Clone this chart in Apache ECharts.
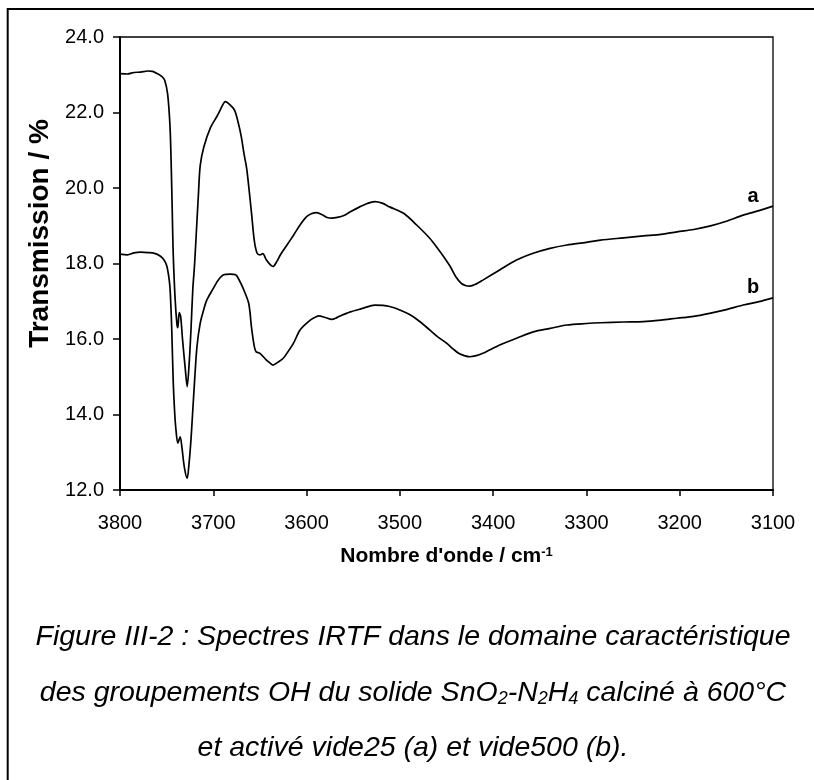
<!DOCTYPE html>
<html>
<head>
<meta charset="utf-8">
<title>Spectres IRTF SnO2-N2H4</title>
<script src="https://cdn.jsdelivr.net/npm/echarts@6/dist/echarts.min.js"></script>
<style>
  html, body { margin: 0; padding: 0; background: #fff; }
  #chart { width: 814px; height: 780px; }
</style>
</head>
<body>
<div id="chart"></div>
<script>
// Spectre (a) : activé vide25 — nombre d'onde (cm-1) et transmission (%)
const waveA = [3800, 3792, 3785, 3778, 3770, 3765, 3760, 3755, 3752, 3749, 3747, 3746, 3745, 3744, 3743, 3741, 3739, 3738, 3736.5, 3735, 3733, 3730, 3728, 3726, 3724, 3722, 3720, 3718, 3716, 3714, 3710, 3703, 3696, 3689, 3687, 3682, 3677, 3673, 3670, 3667, 3664, 3659, 3656, 3653, 3650, 3647, 3643, 3639, 3636, 3632, 3628, 3621, 3614, 3607, 3600, 3595, 3589, 3583, 3578, 3573, 3567, 3560, 3553, 3543, 3535, 3527, 3519, 3511, 3496, 3482, 3468, 3460, 3453, 3446, 3440, 3434, 3429, 3425, 3418, 3411, 3393, 3375, 3357, 3339, 3321, 3300, 3285, 3260, 3239, 3220, 3203, 3185, 3168, 3150, 3132, 3115, 3100];
const transA = [23.03, 23.02, 23.06, 23.07, 23.10, 23.09, 23.03, 22.95, 22.85, 22.5, 21.9, 21.4, 20.5, 19.4, 18.3, 17.1, 16.4, 16.3, 16.7, 16.6, 16.0, 15.2, 14.74, 15.3, 16.2, 17.3, 18.0, 18.9, 19.8, 20.6, 21.1, 21.6, 21.9, 22.24, 22.29, 22.2, 22.05, 21.7, 21.36, 20.9, 20.48, 19.33, 18.6, 18.27, 18.23, 18.26, 18.09, 17.97, 17.92, 18.05, 18.23, 18.49, 18.75, 19.02, 19.24, 19.32, 19.35, 19.29, 19.22, 19.2, 19.22, 19.27, 19.37, 19.5, 19.59, 19.64, 19.6, 19.5, 19.33, 19.02, 18.67, 18.42, 18.18, 17.92, 17.65, 17.47, 17.41, 17.40, 17.46, 17.56, 17.83, 18.09, 18.27, 18.40, 18.49, 18.56, 18.62, 18.68, 18.73, 18.77, 18.84, 18.9, 18.99, 19.12, 19.28, 19.4, 19.52];

// Spectre (b) : activé vide500
const waveB = [3800, 3792, 3785, 3778, 3770, 3763, 3757, 3753, 3750, 3748, 3746.5, 3745.5, 3744.5, 3743, 3741.5, 3740, 3738, 3735.5, 3733.5, 3731, 3728, 3726, 3724, 3722.5, 3720, 3717.5, 3714, 3710, 3707, 3700, 3695, 3689, 3682, 3676, 3672, 3668, 3662, 3659, 3656, 3654, 3650, 3643, 3639, 3636, 3631, 3625, 3620, 3614, 3607, 3598, 3592, 3587, 3580, 3573, 3568, 3564, 3553, 3540, 3527, 3518, 3511, 3500, 3489, 3478, 3468, 3459, 3450, 3443, 3437, 3431, 3425, 3418, 3411, 3393, 3375, 3357, 3339, 3321, 3300, 3285, 3260, 3239, 3220, 3203, 3185, 3168, 3150, 3132, 3115, 3100];
const transB = [18.25, 18.23, 18.28, 18.3, 18.29, 18.27, 18.2, 18.1, 17.95, 17.7, 17.39, 16.9, 16.24, 14.91, 14.1, 13.59, 13.24, 13.41, 13.1, 12.6, 12.31, 12.7, 13.3, 13.9, 14.91, 15.8, 16.42, 16.8, 17.03, 17.34, 17.55, 17.70, 17.72, 17.70, 17.55, 17.34, 16.94, 16.3, 15.8, 15.66, 15.62, 15.44, 15.36, 15.31, 15.38, 15.49, 15.66, 15.89, 16.24, 16.46, 16.56, 16.61, 16.57, 16.52, 16.56, 16.61, 16.72, 16.81, 16.90, 16.89, 16.86, 16.77, 16.64, 16.45, 16.24, 16.05, 15.89, 15.74, 15.62, 15.56, 15.53, 15.56, 15.62, 15.84, 16.02, 16.19, 16.28, 16.37, 16.41, 16.43, 16.45, 16.46, 16.5, 16.55, 16.6, 16.68, 16.78, 16.90, 16.99, 17.09];

const seriesNames = ['a', 'b'];
const xRange = { min: 3100, max: 3800, step: 100 };
const yRange = { min: 12, max: 24, step: 2 };

const captionLines = [
  'Figure III-2 : Spectres IRTF dans le domaine caractéristique',
  'des groupements OH du solide SnO{sub|2}-N{sub|2}H{sub|4} calciné à 600°C',
  'et activé vide25 (a) et vide500 (b).'
];

const FONT = '"Liberation Sans", Arial, sans-serif';

function pairs(xs, ys) {
  return xs.map((x, i) => [x, ys[i]]);
}

function endLabel(name, xs, ys, offset) {
  const last = xs.length - 1;
  return {
    symbol: 'circle',
    symbolSize: 0,
    silent: true,
    data: [{ coord: [xs[last], ys[last]] }],
    label: {
      show: true,
      formatter: name,
      offset: offset,
      color: '#000',
      fontFamily: FONT,
      fontWeight: 'bold',
      fontSize: 20
    }
  };
}

const chart = echarts.init(document.getElementById('chart'), null, { renderer: 'canvas' });

const captionY = [637, 693, 748];

chart.setOption({
  backgroundColor: '#fff',
  animation: false,
  grid: {
    left: 120, top: 37, right: 41, bottom: 290,
    show: true,
    borderColor: '#000',
    borderWidth: 1.3,
    backgroundColor: 'transparent'
  },
  xAxis: {
    type: 'value',
    inverse: true,
    min: xRange.min,
    max: xRange.max,
    interval: xRange.step,
    axisLine: { show: true, onZero: false, lineStyle: { color: '#000', width: 2 } },
    axisTick: { show: true, length: 6, lineStyle: { color: '#000', width: 1.5 } },
    axisLabel: {
      color: '#000', fontFamily: FONT, fontSize: 20, margin: 23,
      formatter: v => String(v)
    },
    splitLine: { show: false },
    name: "Nombre d'onde / cm{sup|-1}",
    nameLocation: 'middle',
    nameGap: 56,
    nameTextStyle: {
      color: '#000', fontFamily: FONT, fontWeight: 'bold', fontSize: 21,
      rich: { sup: { color: '#000', fontFamily: FONT, fontWeight: 'bold', fontSize: 13, verticalAlign: 'top' } }
    }
  },
  yAxis: {
    type: 'value',
    min: yRange.min,
    max: yRange.max,
    interval: yRange.step,
    axisLine: { show: true, lineStyle: { color: '#000', width: 2 } },
    axisTick: { show: true, length: 7, lineStyle: { color: '#000', width: 1.5 } },
    axisLabel: {
      color: '#000', fontFamily: FONT, fontSize: 20, margin: 16,
      formatter: v => v.toFixed(1)
    },
    splitLine: { show: false },
    name: 'Transmission / %',
    nameLocation: 'middle',
    nameGap: 66,
    nameTextStyle: {
      color: '#000', fontFamily: FONT, fontWeight: 'bold', fontSize: 28,
      padding: [0, 0, 0, 60]
    }
  },
  series: [
    {
      name: seriesNames[0],
      type: 'line',
      data: pairs(waveA, transA),
      showSymbol: false,
      smooth: 0.3,
      lineStyle: { color: '#000', width: 1.7 },
      markPoint: endLabel(seriesNames[0], waveA, transA, [-20, -10])
    },
    {
      name: seriesNames[1],
      type: 'line',
      data: pairs(waveB, transB),
      showSymbol: false,
      smooth: 0.3,
      lineStyle: { color: '#000', width: 1.7 },
      markPoint: endLabel(seriesNames[1], waveB, transB, [-20, -10])
    }
  ],
  graphic: [
    {
      type: 'rect',
      silent: true,
      shape: { x: 7.7, y: 9, width: 900, height: 900 },
      style: { fill: 'none', stroke: '#000', lineWidth: 2 }
    }
  ].concat(captionLines.map((line, i) => ({
    type: 'text',
    silent: true,
    x: 413,
    y: captionY[i],
    style: {
      text: line,
      fill: '#000',
      fontFamily: FONT,
      fontStyle: 'italic',
      fontSize: 28.5,
      align: 'center',
      verticalAlign: 'middle',
      rich: {
        sub: { fill: '#000', fontFamily: FONT, fontStyle: 'italic', fontSize: 18, verticalAlign: 'bottom' }
      }
    }
  })))
});
</script>
</body>
</html>
